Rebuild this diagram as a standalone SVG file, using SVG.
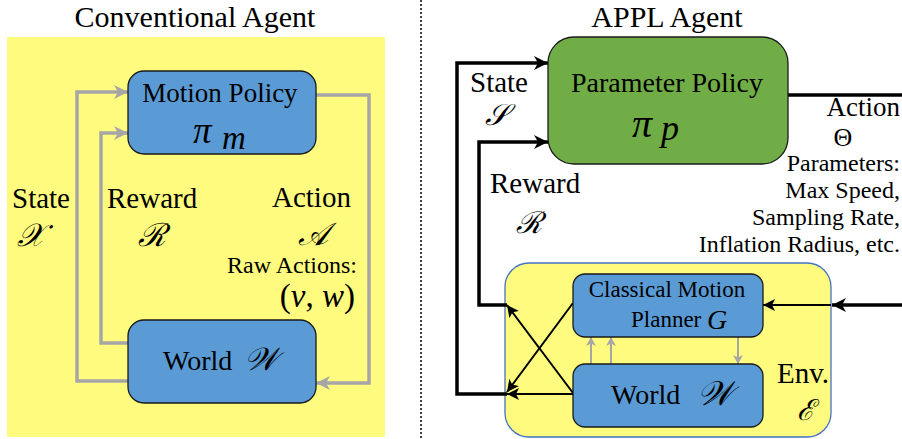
<svg xmlns="http://www.w3.org/2000/svg" width="902" height="439" viewBox="0 0 902 439">
<style>
text{font-family:'Liberation Serif','DejaVu Serif','Times New Roman',serif;fill:#000}
.t{font-size:30px}
.lb{font-size:29px}
.sm{font-size:24px}
.m{font-style:italic}
.blue{fill:#5B9BD5;stroke:#1a1a1a;stroke-width:1.3}
.gl{fill:none;stroke:#A6A6A6;stroke-width:3.5}
.gt{fill:none;stroke:#A6A6A6;stroke-width:2}
.bk{fill:none;stroke:#000;stroke-width:3.5}
.bt{fill:none;stroke:#000;stroke-width:2}
</style>
<defs>
<marker id="ag" markerWidth="16" markerHeight="14" refX="14" refY="7" orient="auto" markerUnits="userSpaceOnUse"><path d="M0,0 L14,7 L0,14 L4,7 z" fill="#A6A6A6"/></marker>
<marker id="agt" markerWidth="10" markerHeight="10" refX="9" refY="5" orient="auto" markerUnits="userSpaceOnUse"><path d="M0,0 L9,5 L0,10 L2.5,5 z" fill="#A6A6A6"/></marker>
<marker id="ab" markerWidth="16" markerHeight="14" refX="14" refY="7" orient="auto" markerUnits="userSpaceOnUse"><path d="M0,0 L14,7 L0,14 L4,7 z" fill="#000"/></marker>
<marker id="abt" markerWidth="13" markerHeight="12" refX="12" refY="6" orient="auto" markerUnits="userSpaceOnUse"><path d="M0,0 L12,6 L0,12 L3,6 z" fill="#000"/></marker>
</defs>
<rect width="902" height="439" fill="#fff"/>
<g id="left-panel">
<rect x="7" y="37" width="378" height="400" fill="#FFFB7F"/>
<text class="t" x="195" y="27" text-anchor="middle">Conventional Agent</text>
</g>
<line x1="421" y1="0" x2="421" y2="439" stroke="#000" stroke-width="1.5" stroke-dasharray="2,2"/>
<g id="right-title"><text class="t" x="667" y="27" text-anchor="middle">APPL Agent</text></g>
<g id="env">
<rect x="505" y="263" width="326" height="174" rx="24" fill="#FFFB7F" stroke="#4472C4" stroke-width="1.3"/>
<text class="lb" x="803" y="383" text-anchor="middle">Env.<tspan class="m" x="805" y="420">ℰ</tspan></text>
</g>
<g id="connectors">
<path class="gl" d="M128,381 H77 V92 H128" marker-end="url(#ag)"/>
<path class="gl" d="M128,343 H101 V133 H128" marker-end="url(#ag)"/>
<path class="gl" d="M316,95 H369 V383 H316" marker-end="url(#ag)"/>
<path class="bt" d="M573,394 H507" marker-end="url(#abt)"/>
<path class="bk" d="M507,394 H457 V63 H548" marker-end="url(#ab)"/>
<path class="bk" d="M507,305 H479 V142 H548" marker-end="url(#ab)"/>
<path class="bt" d="M573,303 L507,392" marker-end="url(#abt)"/>
<path class="bt" d="M573,393 L507,305" marker-end="url(#abt)"/>
<path class="bk" d="M788,95 H902"/>
<path class="bk" d="M902,305 H832" marker-end="url(#ab)"/>
<path class="bt" d="M831,305 H763" marker-end="url(#abt)"/>
<path class="gt" d="M591,364 V337" marker-end="url(#agt)"/>
<path class="gt" d="M611,364 V337" marker-end="url(#agt)"/>
<path class="gt" d="M738,337 V364" marker-end="url(#agt)"/>
</g>
<g id="motion-policy">
<rect class="blue" x="128" y="71" width="188" height="83" rx="16"/>
<text font-size="27" x="220" y="102" text-anchor="middle">Motion Policy</text>
<text class="m" font-size="37" x="193" y="143">π</text>
<text class="m" font-size="33" x="222" y="149">m</text>
</g>
<g id="world-left">
<rect class="blue" x="128" y="320" width="188" height="83" rx="16"/>
<text font-size="28" x="163" y="370">World <tspan class="m" x="244" font-size="32">𝒲</tspan></text>
</g>
<g id="left-labels">
<text class="lb" x="12" y="208">State<tspan class="m" x="17" y="246" font-size="32">𝒳</tspan></text>
<text class="lb" x="107" y="208">Reward<tspan class="m" x="138" y="246" font-size="32">ℛ</tspan></text>
<text class="lb" x="272" y="207">Action<tspan class="m" x="298" y="245" font-size="32">𝒜</tspan></text>
<text class="sm" x="357" y="273" text-anchor="end">Raw Actions:</text>
<text x="355" y="307" font-size="33" text-anchor="end">(<tspan class="m">v</tspan>, <tspan class="m">w</tspan>)</text>
</g>
<g id="parameter-policy">
<rect x="548" y="37" width="240" height="127" rx="26" fill="#70AD47" stroke="#1a1a1a" stroke-width="1.3"/>
<text font-size="28" x="667" y="92" text-anchor="middle">Parameter Policy<tspan class="m" font-size="40" x="642" y="137">π</tspan><tspan class="m" font-size="36" x="670" y="140">p</tspan></text>
</g>
<g id="planner">
<rect class="blue" x="573" y="274" width="190" height="63" rx="12"/>
<text x="667" y="297" font-size="23" text-anchor="middle">Classical Motion</text>
<text x="631" y="327" font-size="23">Planner</text>
<text x="707" y="329" class="m" font-size="28">G</text>
</g>
<g id="world-right">
<rect class="blue" x="573" y="364" width="190" height="63" rx="12"/>
<text font-size="28" x="611" y="404">World<tspan class="m" x="697" y="405" font-size="34">𝒲</tspan></text>
</g>
<g id="right-labels">
<text class="lb" x="470" y="92">State<tspan class="m" x="485" y="125" font-size="30">𝒮</tspan></text>
<text class="lb" x="490" y="193">Reward<tspan class="m" x="516" y="233" font-size="30">ℛ</tspan></text>
<text font-size="27" x="900" y="116" text-anchor="end">Action</text>
<text x="843" y="146" font-size="26" text-anchor="middle">Θ</text>
<text class="sm" x="900" y="171" text-anchor="end">Parameters:</text>
<text class="sm" x="900" y="198" text-anchor="end">Max Speed,</text>
<text class="sm" x="900" y="225" text-anchor="end">Sampling Rate,</text>
<text class="sm" x="900" y="252" text-anchor="end">Inflation Radius, etc.</text>
</g>
</svg>
